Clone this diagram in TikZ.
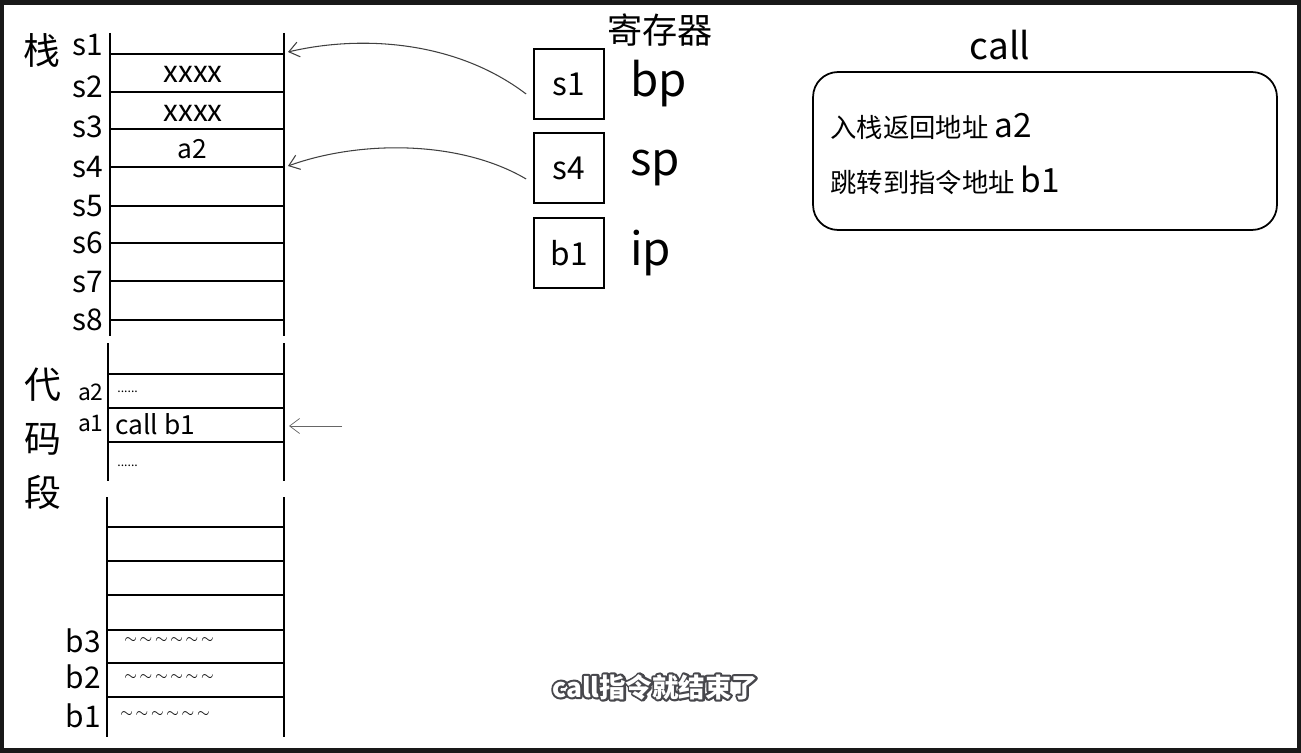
\documentclass[tikz,border=0pt]{standalone}
\usepackage{fontspec}
\setmainfont{Noto Sans CJK SC}
\usetikzlibrary{arrows.meta,positioning}
\newcommand\halotext[1]{\rlap{\special{pdf:literal direct 2 Tr 2.4 w 1 j 0.28 0.28 0.3 RG 0.28 0.28 0.3 rg}#1\special{pdf:literal direct 0 Tr 0.4 w}}\textcolor{white}{#1}}
\tikzset{
  rail/.style={line width=1.1pt},
  addr/.style={font=\fontsize{17}{17}\selectfont, anchor=east, inner sep=0pt},
  addrsm/.style={font=\fontsize{13}{13}\selectfont, anchor=east, inner sep=0pt},
  cell/.style={font=\fontsize{15}{15}\selectfont, inner sep=0pt},
  reg/.style={draw, line width=1pt, minimum width=1.4cm, minimum height=1.4cm,
              inner sep=0pt, font=\fontsize{18}{18}\selectfont},
  regname/.style={font=\fontsize{26}{26}\selectfont, inner sep=0pt, anchor=west},
  seg/.style={font=\fontsize{21}{21}\selectfont, inner sep=0pt},
  ptr/.style={-{Straight Barb[length=2mm,width=3mm]}, black!75, semithick},
  sub/.style={font=\bfseries\fontsize{15}{15}\selectfont, inner sep=0pt},
}
\begin{document}
\begin{tikzpicture}[x=0.02cm,y=-0.02cm]
        \fill[black!90] (0,0) rectangle (1301,753);
        \fill[white] (4,5) rectangle (1297,748);
        % stack
        \node[seg] (stk) at (42,50) {栈};
        \draw[rail] (110,33) -- (110,336);
        \draw[rail] (284,33) -- (284,336);
        \foreach \y in {54,92,129,167,206,243,281,320} \draw[rail] (110,\y) -- (284,\y);
        \foreach \n/\y in {1/45,2/87,3/127,4/167,5/206,6/243,7/282,8/320} \node[addr] (s\n) at (103,\y) {s\n};
        \node[cell,font=\fontsize{17}{17}\selectfont] (x1) at (193,74) {xxxx};
        \node[cell,font=\fontsize{17}{17}\selectfont] (x2) at (193,113) {xxxx};
        \node[cell] (ret) at (192,149) {a2};
        \coordinate (s1r) at (288,52);
        \coordinate (s4r) at (288,166);
        % code segment
        \node[seg,align=center] (code) at (43,439) {代\\[3.4mm]码\\[3.4mm]段};
        \draw[rail] (108,343) -- (108,481);
        \draw[rail] (284,343) -- (284,481);
        \foreach \y in {374,408,442} \draw[rail] (108,\y) -- (284,\y);
        \node[addrsm] (a2) at (104,392) {a2};
        \node[addrsm] (a1) at (104,424) {a1};
        \node[cell,font=\fontsize{7}{7}\selectfont,anchor=west] (dots1) at (117,392) {......};
        \node[cell,anchor=west] (ins) at (115,424) {call b1};
        \node[cell,font=\fontsize{7}{7}\selectfont,anchor=west] (dots2) at (117,466) {......};
        \coordinate (pc) at (342,426);
        \coordinate (a1r) at (289,426);
        \draw[rail] (107,497) -- (107,737);
        \draw[rail] (284,497) -- (284,737);
        \foreach \y in {527,561,595,630,663,697} \draw[rail] (107,\y) -- (284,\y);
        \node[addr] (b3) at (101,641) {b3};
        \node[addr] (b2) at (101,677) {b2};
        \node[addr] (b1) at (101,716) {b1};
        \node[cell,font=\fontsize{9}{9}\selectfont,anchor=west] (w3) at (124,641) {$\sim\,\sim\,\sim\,\sim\,\sim\,\sim$};
        \node[cell,font=\fontsize{9}{9}\selectfont,anchor=west] (w2) at (124,678) {$\sim\,\sim\,\sim\,\sim\,\sim\,\sim$};
        \node[cell,font=\fontsize{9}{9}\selectfont,anchor=west] (w1) at (120,715) {$\sim\,\sim\,\sim\,\sim\,\sim\,\sim$};
        % registers
        \node[seg,font=\fontsize{20}{20}\selectfont] (regs) at (660,30) {寄存器};
        \node[reg] (rbp) at (569,84) {s1};
        \node[reg] (rsp) at (569,168) {s4};
        \node[reg] (rip) at (569,253) {b1};
        \node[regname,right=5mm of rbp] (bp) {bp};
        \node[regname,right=5mm of rsp] (sp) {sp};
        \node[regname,right=5mm of rip] (ip) {ip};
        \draw[ptr] ([shift={(-7,10)}]rbp.west) .. controls (455,40) and (360,35) .. (s1r);
        \draw[ptr] ([shift={(-7,11)}]rsp.west) .. controls (460,140) and (360,140) .. (s4r);
        \draw[ptr,black!60,thin] (pc) -- (a1r);
        % call
        \node[font=\fontsize{21}{21}\selectfont,inner sep=0pt] (call) at (1000,45) {call};
        \node[draw,line width=1pt,rounded corners=0.5cm,minimum width=9.28cm,minimum height=3.16cm] (callbox) at (1045,151) {};
        \node[cell,anchor=west] (push) at (830,126) {入栈返回地址 {\fontsize{19}{19}\selectfont a2}};
        \node[cell,anchor=west] (jump) at (830,180) {跳转到指令地址 {\fontsize{19}{19}\selectfont b1}};
        % subtitle
        \node[sub] (note) at (655,687) {\halotext{call指令就结束了}};
\end{tikzpicture}
\end{document}
